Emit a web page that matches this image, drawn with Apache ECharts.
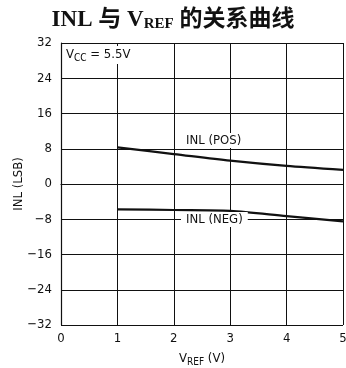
<!DOCTYPE html>
<html>
<head>
<meta charset="utf-8">
<script src="https://cdn.jsdelivr.net/npm/echarts@6/dist/echarts.min.js"></script>
<style>
  html, body { margin: 0; padding: 0; background: #fff; }
  #chart { width: 346px; height: 368px; }
</style>
</head>
<body>
<div id="chart"></div>
<script>
// Reference voltage (V) and integral nonlinearity (LSB)
const vref = [1, 2, 3, 4, 5];
const inlPos = [8.3, 6.8, 5.3, 4.1, 3.2];
const inlNeg = [-5.75, -5.9, -6.1, -7.3, -8.5];
const yTicks = [-32, -24, -16, -8, 0, 8, 16, 24, 32];
const xTicks = [0, 1, 2, 3, 4, 5];

const FONT = '"DejaVu Sans Condensed", "Liberation Sans Narrow", "Liberation Sans", Arial, sans-serif';

const chart = echarts.init(document.getElementById('chart'));

const pairs = (xs, ys) => xs.map((x, i) => [x, ys[i]]);

chart.setOption({
  animation: false,
  backgroundColor: '#fff',
  title: {
    text: '{a|INL 与 V}{s|REF}{a| 的关系曲线}',
    left: 'center',
    top: 3,
    textStyle: {
      rich: {
        a: { fontFamily: '"Liberation Serif", "Noto Sans CJK SC", serif', fontSize: 23, fontWeight: 'bold', color: '#111' },
        s: { fontFamily: '"Liberation Serif", serif', fontSize: 15, fontWeight: 'bold', color: '#111', verticalAlign: 'bottom', padding: [9, 0, 0, 0] }
      }
    }
  },
  grid: { left: 61, right: 3, top: 43, bottom: 43, containLabel: false, outerBoundsMode: 'none' },
  xAxis: {
    type: 'value',
    min: 0, max: 5, interval: 1,
    axisLine: { show: true, lineStyle: { color: '#111', width: 1.2 } },
    axisTick: { show: false },
    splitLine: { show: true, lineStyle: { color: '#111', width: 1 } },
    axisLabel: { color: '#111', fontFamily: FONT, fontSize: 13, margin: 7 },
    name: '{a|V}{s|REF}{a| (V)}',
    nameLocation: 'middle',
    nameGap: 26,
    nameMoveOverlap: false,
    nameTextStyle: {
      rich: {
        a: { fontFamily: FONT, fontSize: 13, color: '#111' },
        s: { fontFamily: FONT, fontSize: 10, color: '#111', verticalAlign: 'bottom', padding: [6, 0, 0, 0] }
      }
    }
  },
  yAxis: {
    type: 'value',
    min: -32, max: 32, interval: 8,
    axisLine: { show: true, lineStyle: { color: '#111', width: 1.2 } },
    axisTick: { show: false },
    splitLine: { show: true, lineStyle: { color: '#111', width: 1 } },
    axisLabel: {
      color: '#111', fontFamily: FONT, fontSize: 13, margin: 9,
      formatter: v => (v < 0 ? '\u2212' + Math.abs(v) : String(v))
    },
    name: 'INL (LSB)',
    nameLocation: 'middle',
    nameGap: 36,
    nameMoveOverlap: false,
    nameTextStyle: { fontFamily: FONT, fontSize: 13, color: '#111' }
  },
  series: [
    {
      type: 'line',
      data: pairs(vref, inlPos),
      smooth: 0.3,
      symbol: 'none',
      lineStyle: { color: '#111', width: 2.2 },
      z: 3
    },
    {
      type: 'line',
      data: pairs(vref, inlNeg),
      smooth: 0.3,
      symbol: 'none',
      lineStyle: { color: '#111', width: 2.2 },
      z: 3
    }
  ],
  graphic: [
    {
      type: 'text',
      left: 181, top: 133,
      style: { text: 'INL (POS)', fontFamily: FONT, fontSize: 13, fill: '#111', backgroundColor: '#fff', padding: [1, 5] },
      z: 10
    },
    {
      type: 'text',
      left: 181, top: 212,
      style: { text: 'INL (NEG)', fontFamily: FONT, fontSize: 13, fill: '#111', backgroundColor: '#fff', padding: [1, 5] },
      z: 10
    },
    {
      type: 'text',
      left: 64, top: 46,
      style: {
        text: '{a|V}{s|CC}{a| = 5.5V}',
        backgroundColor: '#fff',
        padding: [1, 2],
        rich: {
          a: { fontFamily: FONT, fontSize: 13, fill: '#111', color: '#111' },
          s: { fontFamily: FONT, fontSize: 10, color: '#111', verticalAlign: 'bottom', padding: [6, 0, 0, 0] }
        }
      },
      z: 10
    }
  ]
});
</script>
</body>
</html>
